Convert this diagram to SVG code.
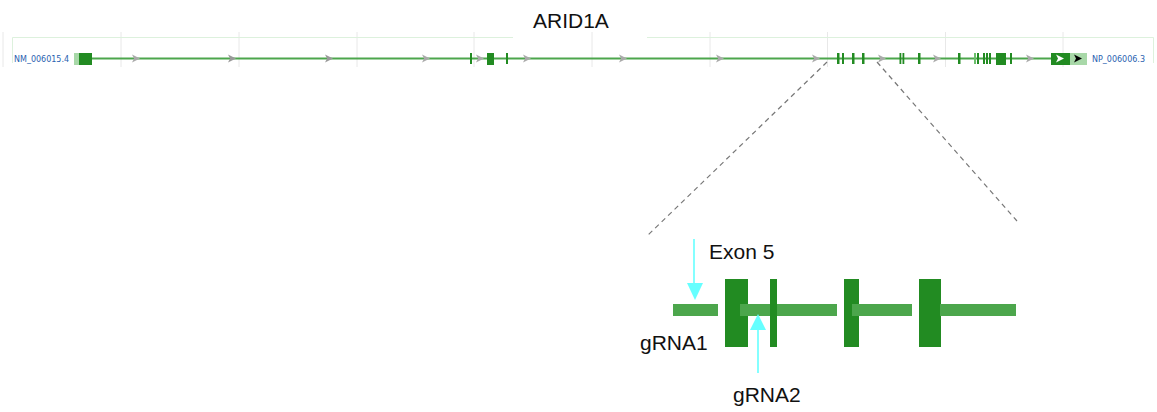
<svg xmlns="http://www.w3.org/2000/svg" width="1157" height="412" viewBox="0 0 1157 412">
  <style>
    .grid { stroke: #e8e8e8; stroke-width: 1; }
    .frame { stroke: #ddf1dd; stroke-width: 1; fill: none; }
    .intron { stroke: #4ca64c; stroke-width: 2; }
    .cds { fill: #228b22; }
    .utr { fill: #a8d8a8; }
    .chev { fill: #aaaaaa; }
    .chev-d { fill: #999999; }
    .acc { font-family: "DejaVu Sans", Verdana, sans-serif; font-size: 8px; fill: #2a62b0; }
    .label { font-family: "Liberation Sans", Arial, sans-serif; font-size: 21px; fill: #111111; }
    .zoom { stroke: #777777; stroke-width: 1.2; stroke-dasharray: 5 4; fill: none; }
    .bar { fill: #4ca64c; }
    .guide { stroke: #66ffff; stroke-width: 1.6; }
    .guide-head { fill: #66ffff; }
  </style>
  <defs>
    <polygon id="chevron" points="-4,-4 4,0 -4,4 -2,0"/>
  </defs>

  <!-- gene track background -->
  <g id="track-frame">
    <g class="grid">
      <line x1="3" y1="32" x2="3" y2="67"/>
      <line x1="121" y1="32" x2="121" y2="67"/>
      <line x1="239" y1="32" x2="239" y2="67"/>
      <line x1="357" y1="32" x2="357" y2="67"/>
      <line x1="474" y1="32" x2="474" y2="67"/>
      <line x1="592" y1="32" x2="592" y2="67"/>
      <line x1="710" y1="32" x2="710" y2="67"/>
      <line x1="827.5" y1="32" x2="827.5" y2="67"/>
      <line x1="945.5" y1="32" x2="945.5" y2="67"/>
      <line x1="1063" y1="32" x2="1063" y2="67"/>
    </g>
    <path class="frame" d="M12.5,63 V37.5 H513 M647 37.5 H1153.5 V63"/>
  </g>

  <!-- gene title -->
  <g id="title">
    <text class="label" x="533" y="28">ARID1A</text>
  </g>

  <!-- transcript model -->
  <g id="transcript">
    <line class="intron" x1="90" y1="58.5" x2="1052" y2="58.5"/>
    <g class="chev">
      <use href="#chevron" x="136" y="58.5"/>
      <use href="#chevron" x="426" y="58.5"/>
      <use href="#chevron" x="480" y="58.5"/>
      <use href="#chevron" x="527" y="58.5"/>
      <use href="#chevron" x="623" y="58.5"/>
      <use href="#chevron" x="720" y="58.5"/>
      <use href="#chevron" x="816" y="58.5"/>
      <use href="#chevron" x="882" y="58.5"/>
      <use href="#chevron" x="937" y="58.5"/>
      <use href="#chevron" x="1030" y="58.5"/>
    </g>
    <g class="chev-d">
      <use href="#chevron" x="232" y="58.5"/>
      <use href="#chevron" x="329" y="58.5"/>
    </g>
    <!-- 5' end -->
    <rect class="utr" x="74" y="53" width="5" height="12"/>
    <rect class="cds" x="79" y="53" width="13" height="12"/>
    <!-- exons -->
    <g class="cds">
      <rect x="470" y="53" width="2" height="11"/>
      <rect x="487" y="53" width="7" height="12"/>
      <rect x="506" y="53" width="2" height="11"/>
      <rect x="837" y="53" width="2.5" height="11"/>
      <rect x="842" y="53" width="2" height="11"/>
      <rect x="852" y="53" width="2.5" height="11"/>
      <rect x="862" y="53" width="2.5" height="11"/>
      <rect x="899.5" y="53" width="1.8" height="11"/>
      <rect x="902.5" y="53" width="1.8" height="11"/>
      <rect x="918" y="53" width="2.5" height="11"/>
      <rect x="958" y="53" width="2.5" height="11"/>
      <rect x="977" y="53" width="2" height="11"/>
      <rect x="983" y="53" width="2" height="11"/>
      <rect x="986" y="53" width="2" height="11"/>
      <rect x="989" y="53" width="2" height="11"/>
      <rect x="996" y="53" width="10" height="12"/>
      <rect x="1010" y="53" width="2" height="11"/>
    </g>
    <rect x="974" y="53" width="2" height="11" fill="#6cbf6c"/>
    <!-- 3' end -->
    <rect class="cds" x="1051" y="53" width="19" height="12"/>
    <rect class="utr" x="1070" y="53" width="17" height="12"/>
    <use href="#chevron" x="1060" y="58.5" fill="#ffffff"/>
    <use href="#chevron" x="1078" y="58.5" fill="#000000"/>
  </g>

  <!-- accession labels -->
  <g id="accessions">
    <text class="acc" x="14" y="62">NM_006015.4</text>
    <text class="acc" x="1092" y="62">NP_006006.3</text>
  </g>

  <!-- enlarged region guides -->
  <g id="connectors">
    <line class="zoom" x1="827" y1="62" x2="647" y2="236"/>
    <line class="zoom" x1="877" y1="62" x2="1017" y2="221"/>
  </g>

  <!-- enlarged exon view -->
  <g id="detail">
    <rect class="cds" x="725" y="279" width="23" height="68"/>
    <rect class="cds" x="844" y="279" width="15" height="68"/>
    <rect class="cds" x="919" y="279" width="22" height="68"/>
    <rect class="bar" x="673" y="304" width="45" height="12"/>
    <rect class="bar" x="740" y="304" width="97" height="12"/>
    <rect class="bar" x="852" y="304" width="60" height="12"/>
    <rect class="bar" x="940" y="304" width="76" height="12"/>
    <rect class="cds" x="770" y="279" width="7" height="68"/>
  </g>

  <!-- guide RNA sites -->
  <g id="gRNA1">
    <line class="guide" x1="694" y1="239" x2="694" y2="286"/>
    <polygon class="guide-head" points="687,283 703,283 695,300"/>
    <text class="label" x="640" y="350">gRNA1</text>
  </g>
  <g id="gRNA2">
    <line class="guide" x1="758" y1="328" x2="758" y2="373"/>
    <polygon class="guide-head" points="750,330 766,330 758,314"/>
    <text class="label" x="733" y="402">gRNA2</text>
  </g>
  <g id="exon5-label">
    <text class="label" x="709" y="259">Exon 5</text>
  </g>
</svg>
